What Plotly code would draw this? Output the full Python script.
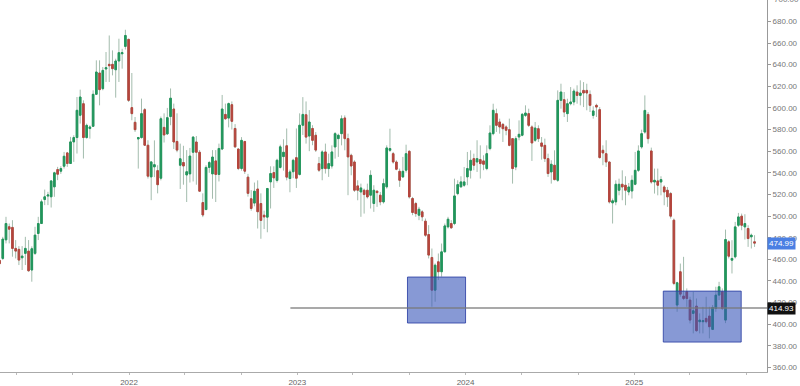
import plotly.graph_objects as go
import pandas as pd

# ---------------- data (weekly candles) ----------------
start_date = "2021-03-26"

opens = [
    459, 460.8, 478, 490.1, 489.5, 470.1, 469.2, 461.4, 465.5, 467.6, 450.1, 465.5, 483.9, 493.1, 515.3, 518.5,
    517.8, 527, 543, 541.5, 546.1, 558.4, 548.6, 568.6, 572.6, 593.2, 603.9, 572.6, 580.9, 583, 612.6, 632.3,
    617.8, 636, 640.3, 640.3, 635.3, 643.4, 650.1, 656.9, 663.4, 600.3, 586.7, 571.3, 572.6, 598.4, 565.5, 536.2,
    545.5, 542, 535, 582, 576, 592, 599, 569, 547, 549.5, 538, 539, 559, 568.5, 559, 512.5,
    506, 545, 539, 551, 538.5, 562, 594, 590.6, 603, 581, 562, 544, 569, 536, 516, 512,
    525, 511.6, 500.8, 499, 531.6, 540.2, 533, 545, 555, 565, 534.7, 541, 554, 538.5, 584, 593.7,
    574, 581, 574.7, 548.5, 543.9, 559.3, 543.9, 546.3, 563.9, 571.6, 576.2, 590.7, 571.6, 556.2, 550, 527.9,
    522.3, 523.9, 523.9, 519.3, 511.6, 523, 519.3, 513.1, 527, 560.8, 557.7, 550, 541.4, 536.2, 542.4, 559.9,
    516.2, 511.6, 500.8, 503.9, 495.3, 482.9, 461.7, 431.5, 457.7, 448.5, 466.9, 490, 493.1, 493.1, 520.8,
    527, 528.5, 536.2, 542.4, 553.1, 550, 552.2, 551, 543.9, 562.4, 576.2, 594.7, 587, 584.8, 582.4, 579.9,
    571.6, 545.4, 573.1, 574.7, 593.1, 594.7, 582.4, 570.1, 580.8, 567.6, 565.4, 553.1, 540.8, 547, 533.1, 607,
    607.6, 594.7, 603.9, 605.5, 614.7, 611.6, 616.2, 616.2, 612.5, 593.1, 602.4, 598.4, 560.8, 557.7, 550, 512.2,
    513.1, 523.9, 529.4, 528.5, 522.3, 523.2, 529.4, 542.3, 563.9, 577.7, 594, 560.2, 531.5, 532.5, 531.5, 526.9,
    523.9, 520.8, 496.2, 417.7, 448.5, 426, 430, 422.3, 410, 416.7, 402.3, 402.3, 405.4, 407.5, 395.2, 414.6,
    426.9, 430, 403.8, 476.2, 459.2, 462.3, 491.5, 499.9, 490, 488.5, 480.8, 476.2,
]

highs = [
    462, 480.8, 499.3, 493.1, 496.2, 477.8, 472.2, 472.2, 480.8, 477.8, 472, 490.1, 499.3, 515.3, 524.5, 522.4,
    533.2, 541, 545.5, 546.1, 559.3, 559.3, 573.2, 574.7, 610.1, 616.9, 607, 585.5, 583.9, 616.3, 644, 644,
    637.8, 651.7, 667, 653.2, 645.5, 664, 654.7, 672.3, 664, 632.3, 591.6, 573.2, 608.6, 599.9, 570.1, 550.1,
    570, 547, 592, 595, 600, 618, 604, 595, 567, 565, 561, 563, 574, 574, 561, 521,
    547, 551, 561, 561, 567, 612, 604, 605, 606, 585, 562.5, 573, 569, 539, 524, 531,
    533, 521, 505, 526, 546, 546, 553, 566, 571, 581, 543, 553, 581, 595, 610, 606,
    598, 584, 577.7, 554.7, 560.8, 567, 557.7, 565.4, 577.7, 576.2, 593.1, 593.1, 576.2, 557.7, 551.6, 533.1,
    530, 525.4, 530, 542.3, 528.5, 523.9, 522.3, 534.6, 565.4, 580.8, 559.3, 551.6, 543.9, 554.7, 566, 560.8,
    517.7, 513.1, 508.5, 505.4, 497.7, 491.6, 470, 456.2, 465.4, 474.6, 493.1, 499.3, 496.2, 534.6, 533.1,
    536.8, 545.4, 559.3, 560.8, 557.7, 570.1, 565.4, 556.2, 565.4, 583.9, 603.9, 599.3, 590.1, 586.1, 583.9, 590.1,
    571.6, 573.8, 588.5, 595.3, 602.4, 599.3, 583.9, 587, 583.9, 573.1, 571.6, 557.7, 551.6, 560.8, 616.2, 622.4,
    614.7, 608.5, 619.3, 617.8, 620.9, 625.5, 623.9, 622.4, 616.2, 601.5, 603.9, 600.8, 565.4, 570.1, 550, 516.2,
    533.1, 534.6, 542.3, 536.8, 530.6, 537.7, 559.3, 565.4, 579.9, 611.6, 596.2, 563.3, 543.9, 543.9, 536.8, 528.5,
    526.9, 522.3, 497.7, 439.2, 456.1, 462.3, 433.1, 425.4, 430, 423.8, 410, 416.1, 425.4, 416.1, 417.7, 434.6,
    439.2, 433.1, 487.5, 477.7, 477.7, 494.6, 502.9, 502.3, 501.7, 491.5, 483.8, 482.3,
]

lows = [
    452, 459.3, 474.7, 474.7, 462.4, 460.8, 454.7, 450.1, 454.7, 448.5, 439.3, 464, 477.8, 493.1, 510.1, 510.1,
    507.9, 517.8, 533.2, 539, 543.9, 545.5, 548.6, 550.1, 557.8, 585.5, 553.2, 571.6, 571.6, 582.4, 612.6, 602.4,
    616.3, 624, 624, 630.1, 609.5, 624, 636.3, 654, 605.5, 588.6, 577.8, 543.9, 571.6, 565.5, 534.7, 514.7,
    536, 521, 533, 568, 575, 584, 562, 559, 525, 529, 513, 531, 532, 529, 523, 499,
    505.5, 540, 516, 513, 532, 561, 589, 582, 580, 563, 542.5, 542, 539, 518, 505, 509,
    488.5, 479, 488, 485, 507, 526, 531, 544, 542, 533, 522, 535, 526, 537.5, 575, 567,
    560, 565.5, 559.3, 540.8, 533.1, 539.3, 536.2, 543.9, 553.1, 554.7, 565.4, 560.8, 519.3, 537.7, 522.3, 514.6,
    499.3, 502.3, 516.2, 507, 503.9, 508.5, 510, 511.6, 525.4, 559.3, 548.5, 542.4, 527, 535.3, 540.2, 516.2,
    500.8, 499.3, 496.2, 495.3, 480.8, 460.8, 416.2, 420.8, 440.8, 443.9, 466.9, 488.5, 488.5, 491.6, 519.3,
    526.4, 527, 528.5, 534.7, 542.4, 540.8, 534.7, 542.4, 542.4, 560.8, 574.7, 577.8, 576.2, 568.5, 574.7, 564.5,
    530, 542.4, 570.1, 573.8, 591.6, 582.4, 551, 568.5, 568.5, 552.2, 550, 536.2, 530, 533.1, 531.6, 599.3,
    591.6, 587, 602.4, 602.4, 603.9, 602.4, 600.8, 597.8, 596.2, 590.1, 591.6, 553.1, 547, 545.4, 511.6, 493.1,
    510, 519.2, 514.6, 510, 519.2, 516.2, 528.5, 540.8, 562.3, 576.2, 567, 530, 520.8, 519.2, 519.2, 510,
    508.5, 497.7, 436.1, 411.5, 425.4, 422.3, 416.1, 400.7, 391.5, 393.1, 391.5, 391.5, 400.7, 386.9, 394.6, 411.5,
    422.3, 413.1, 401, 460.8, 446.9, 460.8, 490, 486.9, 478.3, 471.5, 470, 471.5,
]

closes = [
    456, 478.7, 493.1, 487.9, 470.1, 467.6, 459.3, 463, 470.1, 449.4, 469.8, 482.4, 493.1, 513.2, 517.8, 519.5,
    532.5, 540, 538.7, 543.9, 555.3, 548.6, 568.6, 572.6, 597.8, 610.1, 572.6, 583.9, 582.4, 612.6, 633.2, 616.9,
    634.7, 637.2, 639, 636.3, 643.4, 651.1, 651.1, 667, 607, 594.7, 579.9, 572.6, 594.7, 565.5, 536.9, 550.1,
    547.5, 529, 590, 575, 591, 609, 568.5, 561, 553, 546.3, 541, 555.5, 573, 559, 523, 501,
    545, 549.5, 554.6, 538.5, 562.5, 599, 590, 604, 587.6, 564, 544, 570, 541.5, 521, 507, 523,
    504, 496, 499.2, 525.5, 539.3, 535.3, 551.6, 564, 559, 536, 540.8, 551.6, 535, 584, 594, 573,
    587, 570, 561, 542.4, 559.3, 543.9, 548.5, 559.3, 576.2, 574.7, 590, 571.6, 554.7, 546.3, 523.9, 523.9,
    526, 519.9, 517.7, 537.7, 523.9, 521.7, 513.1, 530, 563, 562.4, 550, 543.3, 533.1, 541.4, 557.7, 517.7,
    503.3, 502.3, 506.3, 499.3, 482.3, 463.9, 431.5, 454.6, 448.5, 466.9, 490.9, 497.1, 489.1, 518.6, 529.1,
    531.6, 531.6, 543.9, 551.6, 547, 553.1, 548.5, 547.9, 557.7, 576.8, 597.8, 583.9, 582.4, 580.8, 579.3, 565.4,
    543.9, 571.6, 575.6, 594.1, 595.3, 583.9, 567.6, 581.4, 571.6, 564.5, 553.1, 539.3, 547.9, 533.7, 607, 614.7,
    596.2, 603.9, 605.5, 615.6, 611.6, 613.8, 613.8, 613.8, 602.4, 597.2, 600.8, 554.1, 558.4, 550, 513.1, 514.1,
    529.4, 529.4, 526.9, 523.9, 526.9, 533.1, 542.3, 560.2, 576.2, 597.7, 571.6, 531.5, 533.1, 528.5, 533.7, 522.3,
    517.7, 499.9, 437.7, 438.3, 427.8, 423.8, 423.8, 403.8, 412.4, 394, 403.8, 403.2, 402.3, 397.7, 415.5, 426.9,
    434.6, 414.6, 478.3, 462.9, 460.8, 490, 499.2, 491.5, 493.1, 479.2, 482.3, 474.99,
]

tick_dates = ["2021-05-01", "2021-09-01", "2022-01-01", "2022-05-01", "2022-09-01",
              "2023-01-01", "2023-05-01", "2023-09-01", "2024-01-01", "2024-05-01",
              "2024-09-01", "2025-01-01", "2025-05-01", "2025-09-01"]
tick_text = ["", "", "2022", "", "", "2023", "", "", "2024", "", "", "2025", "", ""]

top_label_value = 700
last_price = 474.99
support_level = 414.93
support_start = "2022-12-17"

zone_x0 = ["2023-08-28", "2025-03-05"]
zone_x1 = ["2024-01-01", "2025-08-21"]
zone_y0 = [401.1, 383.5]
zone_y1 = [443.6, 430.6]

x_range = ["2021-03-27", "2025-10-16"]
y_range = [355.8, 699.8]

# ---------------- figure ----------------
dates = pd.date_range(start_date, periods=len(opens), freq="7D")
body_hi = [max(o, c) for o, c in zip(opens, closes)]
body_lo = [min(o, c) for o, c in zip(opens, closes)]

GREEN = "#21965c"
RED = "#b5453d"
WICK = "#a3bcad"
FONT = "Arial, Liberation Sans"

fig = go.Figure()
# wicks (light)
fig.add_trace(go.Candlestick(
    x=dates, open=opens, high=highs, low=lows, close=closes,
    increasing=dict(line=dict(color=WICK, width=1), fillcolor=WICK),
    decreasing=dict(line=dict(color=WICK, width=1), fillcolor=WICK),
    showlegend=False, hoverinfo="skip",
))
# bodies (coloured)
fig.add_trace(go.Candlestick(
    x=dates, open=opens, high=body_hi, low=body_lo, close=closes,
    increasing=dict(line=dict(color=GREEN, width=1), fillcolor=GREEN),
    decreasing=dict(line=dict(color=RED, width=1), fillcolor=RED),
    showlegend=False,
))

shapes = []
for x0, x1, y0, y1 in zip(zone_x0, zone_x1, zone_y0, zone_y1):
    shapes.append(dict(type="rect", xref="x", yref="y", x0=x0, x1=x1, y0=y0, y1=y1,
                       fillcolor="rgba(55,85,185,0.6)", line=dict(color="rgba(45,65,165,0.85)", width=1),
                       layer="above"))
shapes.append(dict(type="line", xref="x", yref="y", x0=support_start, x1=x_range[1],
                   y0=support_level, y1=support_level,
                   line=dict(color="rgba(120,120,120,0.85)", width=1.5), layer="above"))

annotations = [
    dict(xref="paper", x=1, xanchor="left", xshift=5, yref="paper", y=1, yshift=1,
         yanchor="middle", text=f"{top_label_value:.2f}", showarrow=False,
         font=dict(color="#777", size=8, family=FONT)),
    dict(xref="paper", x=1, xanchor="left", xshift=0, yref="y", y=last_price,
         text=f"{last_price:.2f}", showarrow=False, bgcolor="#4b7fe3",
         font=dict(color="white", size=8, family=FONT), borderpad=1),
    dict(xref="paper", x=1, xanchor="left", xshift=0, yref="y", y=support_level,
         text=f"{support_level:.2f}", showarrow=False, bgcolor="#111111",
         font=dict(color="white", size=8, family=FONT), borderpad=1),
]

fig.update_layout(
    width=800, height=386,
    margin=dict(l=0, r=33, t=0, b=14),
    paper_bgcolor="white", plot_bgcolor="white",
    shapes=shapes, annotations=annotations,
    font=dict(family=FONT, size=8, color="#777"),
    xaxis=dict(
        type="date", range=x_range, rangeslider=dict(visible=False),
        tickvals=tick_dates, ticktext=tick_text,
        ticks="outside", ticklen=2, tickcolor="#bbb",
        showline=True, linecolor="#aaa", linewidth=1,
        showgrid=False, zeroline=False, automargin=False,
        tickfont=dict(size=8, color="#666"),
    ),
    yaxis=dict(
        side="right", range=y_range, dtick=20, tick0=0, tickformat=".2f",
        ticks="outside", ticklen=3, tickcolor="#999",
        showline=True, linecolor="#999", linewidth=1,
        showgrid=False, zeroline=False, automargin=False,
        tickfont=dict(size=8, color="#777"),
    ),
)

fig.write_html("out.html")
